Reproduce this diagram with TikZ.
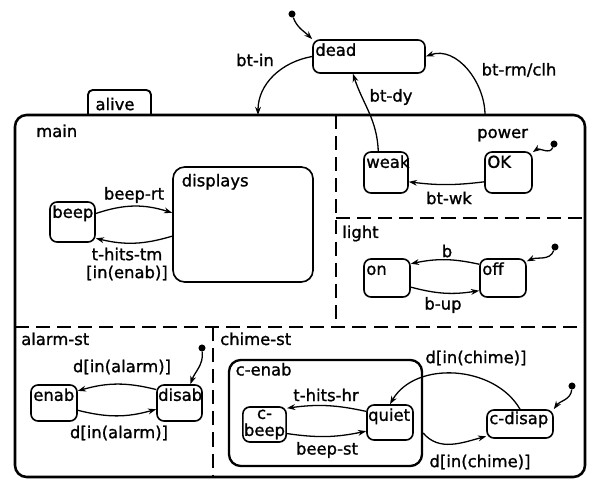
\documentclass[tikz,border=0pt]{standalone}
\usepackage{fontspec}
\setmainfont[FakeBold=1.2]{DejaVu Sans}
\usetikzlibrary{arrows.meta}

\begin{document}
\begin{tikzpicture}[
    x=0.03cm, y=0.03cm,
    font=\fontsize{14}{16}\selectfont,
    statebox/.style={draw, rounded corners=6pt, line width=1.4pt},
    region/.style={draw, rounded corners=10pt, line width=2.2pt},
    divider/.style={line width=1.5pt, dash pattern=on 12pt off 6pt},
    trans/.style={-{Stealth[length=7pt,width=5pt]}, line width=1.1pt},
    initdot/.style={circle, fill, inner sep=0pt, minimum size=6pt},
    sname/.style={anchor=north west, inner xsep=2.5pt, inner ysep=4pt, text height=10pt, text depth=2.5pt},
    tlabel/.style={inner sep=1pt}
]
\useasboundingbox (0,0) rectangle (595,480);

% outer state and its tab
\node[region, minimum width=17.1cm, minimum height=10.86cm] (alive) at (300,184) {};
\draw[line width=1.6pt, rounded corners=4pt] (88,365) -- (88,390) -- (151,390) -- (151,365);
\node[inner sep=1pt] (alivetab) at (115,376) {alive};

% orthogonal components
\draw[divider] (336,365) -- (336,153);
\draw[divider] (15,153) -- (585,153);
\draw[divider] (336,262) -- (585,262);
\draw[divider] (213,153) -- (213,3);
\node[anchor=base west, inner sep=0pt] (mainlbl) at (36,343) {main};
\node[anchor=base west, inner sep=0pt] (powerlbl) at (477,342) {power};
\node[anchor=base west, inner sep=0pt] (lightlbl) at (342,242) {light};
\node[anchor=base west, inner sep=0pt] (alarmlbl) at (21,135) {alarm-st};
\node[anchor=base west, inner sep=0pt] (chimelbl) at (220,135) {chime-st};

% states
\node[statebox, minimum width=3.36cm, minimum height=0.99cm, label={[sname]north west:dead}] (dead) at (369,423.5) {};
\node[statebox, minimum width=1.32cm, minimum height=1.23cm, label={[sname]north west:weak}] (weak) at (386,307.5) {};
\node[statebox, minimum width=1.41cm, minimum height=1.23cm, label={[sname]north west:OK}] (ok) at (508.5,307.5) {};
\node[statebox, minimum width=1.38cm, minimum height=1.14cm, label={[sname]north west:on}] (on) at (387,202) {};
\node[statebox, minimum width=1.38cm, minimum height=1.14cm, label={[sname]north west:off}] (off) at (503,202) {};
\node[statebox, minimum width=1.35cm, minimum height=1.2cm, label={[sname]north west:beep}] (beep) at (72.5,258) {};
\node[statebox, rounded corners=10pt, minimum width=4.2cm, minimum height=3.45cm, label={[sname, xshift=5.5pt, yshift=-3pt]north west:displays}] (displays) at (243,255.5) {};
\node[statebox, minimum width=1.38cm, minimum height=1.08cm, label={[sname]north west:enab}] (enab) at (54,77) {};
\node[statebox, minimum width=1.35cm, minimum height=1.08cm, label={[sname, inner xsep=1.5pt]north west:disab}] (disab) at (179.5,77) {};
\node[region, line width=2pt, minimum width=5.79cm, minimum height=3.18cm, label={[sname, xshift=4pt]north west:c-enab}] (cenab) at (325.5,67) {};
\node[statebox, align=center, inner sep=1pt, font=\fontsize{14}{14.5}\selectfont, minimum width=1.29cm, minimum height=1.05cm] (cbeep) at (264.5,55.5) {c-\\beep};
\node[statebox, minimum width=1.38cm, minimum height=1.05cm, label={[sname, inner xsep=1.5pt]north west:quiet}] (quiet) at (390,57.5) {};
\node[statebox, minimum width=1.98cm, minimum height=0.84cm, label={[sname, inner ysep=2.5pt]north west:c-disap}] (cdisap) at (520,56) {};

% default entries
\node[initdot] (init1) at (292,466) {};
\node[initdot] (init2) at (554,336) {};
\node[initdot] (init3) at (555,233) {};
\node[initdot] (init4) at (202,132) {};
\node[initdot] (init5) at (572,94) {};
\draw[trans] (init1) to[out=-70, in=135] (dead.north west);
\draw[trans] (init2) to[out=-110, in=35] (ok.40);
\draw[trans] (init3) to[out=-110, in=25] (off.35);
\draw[trans] (init4) to[out=-85, in=70] (disab.60);
\draw[trans] (init5) to[out=-95, in=55] (cdisap.north east);

% transitions
\coordinate (btin) at (258,365);
\coordinate (btrm) at (485,365);
\draw[trans] (dead.west) to[out=190, in=90] (btin);
\draw[trans] (btrm) to[out=90, in=20] (dead.east);
\draw[trans] (weak.110) to[out=92, in=-72] ([xshift=-0.48cm]dead.south);
\draw[trans] ([yshift=-0.28cm]ok.west) to[bend left=7] ([yshift=-0.28cm]weak.east);
\draw[trans] (off.150) to[bend right=12] (on.31);
\draw[trans] (on.-21) to[bend right=12] (off.208);
\draw[trans] (beep.20) to[bend left=18] ([yshift=0.35cm]displays.west);
\draw[trans] ([yshift=-0.35cm]displays.west) to[bend left=15] (beep.-35);
\draw[trans] (disab.150) to[bend right=15] (enab.27);
\draw[trans] (enab.-17) to[bend right=15] (disab.195);
\draw[trans] (quiet.155) to[bend right=10] (cbeep.36);
\draw[trans] (cbeep.-22) to[bend right=10] (quiet.200);
\draw[trans] (cdisap.north) to[out=120, in=60] (quiet.north);
\draw[trans] ([yshift=-0.6cm]cenab.east) to[out=-50, in=195] (cdisap.200);

% transition labels
\node[tlabel] (lbtin) at (255,420) {bt-in};
\node[tlabel] (lbtrm) at (519,410) {bt-rm/clh};
\node[tlabel] (lbtdy) at (391,383) {bt-dy};
\node[tlabel] (lbtwk) at (449,282) {bt-wk};
\node[tlabel] (lb) at (447,229) {b};
\node[tlabel] (lbup) at (443,175) {b-up};
\node[tlabel] (lbeeprt) at (134,285) {beep-rt};
\node[tlabel, align=center, font=\fontsize{14}{15.3}\selectfont] (lthits) at (127,216) {t-hits-tm\\{[}in(enab)]};
\node[tlabel] (lalarm1) at (122,113) {d[in(alarm)]};
\node[tlabel] (lalarm2) at (119,47) {d[in(alarm)]};
\node[tlabel] (lthitshr) at (326,85) {t-hits-hr};
\node[tlabel] (lbeepst) at (327,30) {beep-st};
\node[tlabel] (lchime1) at (476,122) {d[in(chime)]};
\node[tlabel] (lchime2) at (480,18) {d[in(chime)]};
\end{tikzpicture}
\end{document}
